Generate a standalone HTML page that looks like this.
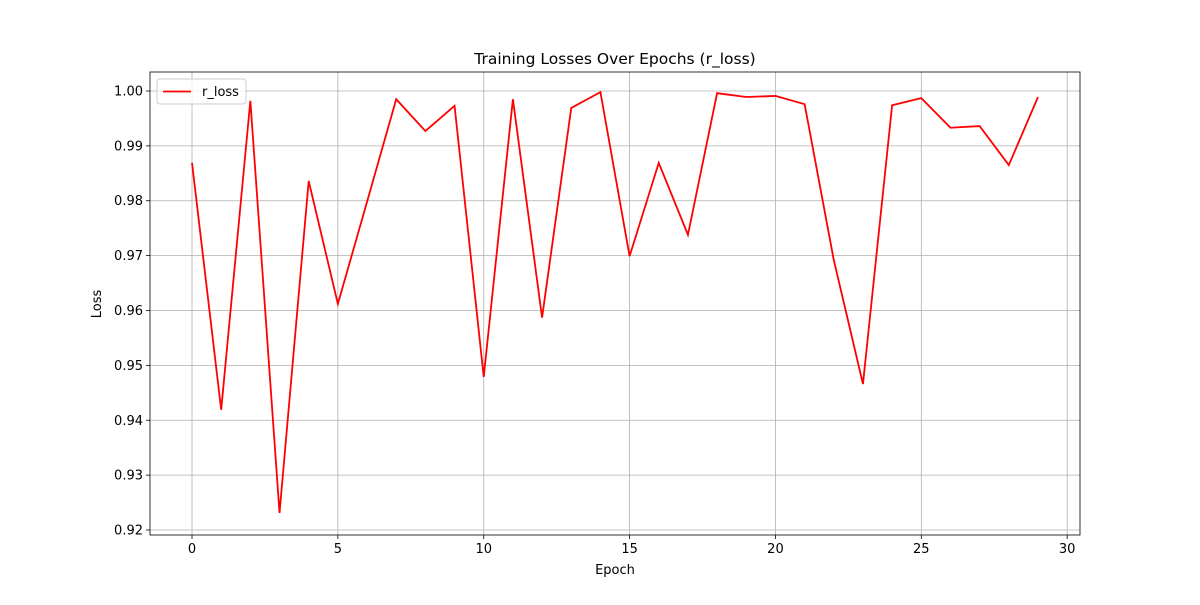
<!DOCTYPE html>
<html><head><meta charset="utf-8"><style>
body{margin:0;background:#fff;}
text{font-family:"DejaVu Sans","Liberation Sans",sans-serif;}
</style></head><body>
<svg id="chart" width="1200" height="600" xmlns="http://www.w3.org/2000/svg"></svg>
<script>
const epochs=[0,1,2,3,4,5,6,7,8,9,10,11,12,13,14,15,16,17,18,19,20,21,22,23,24,25,26,27,28,29];
const rLoss=[0.9869,0.9419,0.9982,0.9231,0.9836,0.9612,0.9798,0.9985,0.9927,0.9973,0.9479,0.9985,0.9587,0.9969,0.9998,0.9699,0.9869,0.9738,0.9996,0.9989,0.9991,0.9976,0.9692,0.9466,0.9974,0.9987,0.9933,0.9936,0.9865,0.9989];
const xTicks=[0,5,10,15,20,25,30];
const yTicks=[0.92,0.93,0.94,0.95,0.96,0.97,0.98,0.99,1.00];
const L=150,R=1080,T=72,B=535;
const xMin=-1.44,xMax=30.44,yMin=0.91909,yMax=1.00346;
const X=v=>L+(v-xMin)/(xMax-xMin)*(R-L);
const Y=v=>B-(v-yMin)/(yMax-yMin)*(B-T);
const svg=document.getElementById('chart');
const NS='http://www.w3.org/2000/svg';
function mk(tag,attrs,txt){const e=document.createElementNS(NS,tag);for(const k in attrs)e.setAttribute(k,attrs[k]);if(txt!==undefined)e.textContent=txt;svg.appendChild(e);return e;}
xTicks.forEach(t=>{const x=X(t);
 const g=mk('line',{x1:x,x2:x,y1:T,y2:B,stroke:'#b0b0b0','stroke-width':0.8});
 
 
 mk('line',{x1:x,x2:x,y1:B,y2:B+4,stroke:'#000','stroke-width':0.8});
 const l=mk('text',{x:x,y:B+18,'text-anchor':'middle','font-size':13},String(t));
 
 
});
yTicks.forEach(t=>{const y=Y(t);
 const g=mk('line',{x1:L,x2:R,y1:y,y2:y,stroke:'#b0b0b0','stroke-width':0.8});
 
 
 mk('line',{x1:L-4,x2:L,y1:y,y2:y,stroke:'#000','stroke-width':0.8});
 const l=mk('text',{x:L-7,y:y+4.5,'text-anchor':'end','font-size':13},t.toFixed(2));
 
 
});
const pts=epochs.map((e,i)=>X(e)+','+Y(rLoss[i])).join(' ');
const line=mk('polyline',{points:pts,fill:'none',stroke:'#ff0000','stroke-width':1.8});


const frame=mk('rect',{x:L,y:T,width:R-L,height:B-T,fill:'none',stroke:'#000','stroke-width':0.8});


const title=mk('text',{x:(L+R)/2,y:64,'text-anchor':'middle','font-size':15.5},'Training Losses Over Epochs (r_loss)');


const xl=mk('text',{x:(L+R)/2,y:574,'text-anchor':'middle','font-size':13},'Epoch');


const yl=mk('text',{x:0,y:0,'text-anchor':'middle','font-size':13,transform:'translate(101,304) rotate(-90)'},'Loss');


const lg=mk('rect',{x:157,y:79,width:89,height:25,rx:3,fill:'#fff','fill-opacity':0.8,stroke:'#ccc','stroke-width':1});


mk('line',{x1:163,x2:191,y1:91.5,y2:91.5,stroke:'#ff0000','stroke-width':1.8});
const lt=mk('text',{x:202,y:96,'font-size':13},'r_loss');


</script>
</body></html>
